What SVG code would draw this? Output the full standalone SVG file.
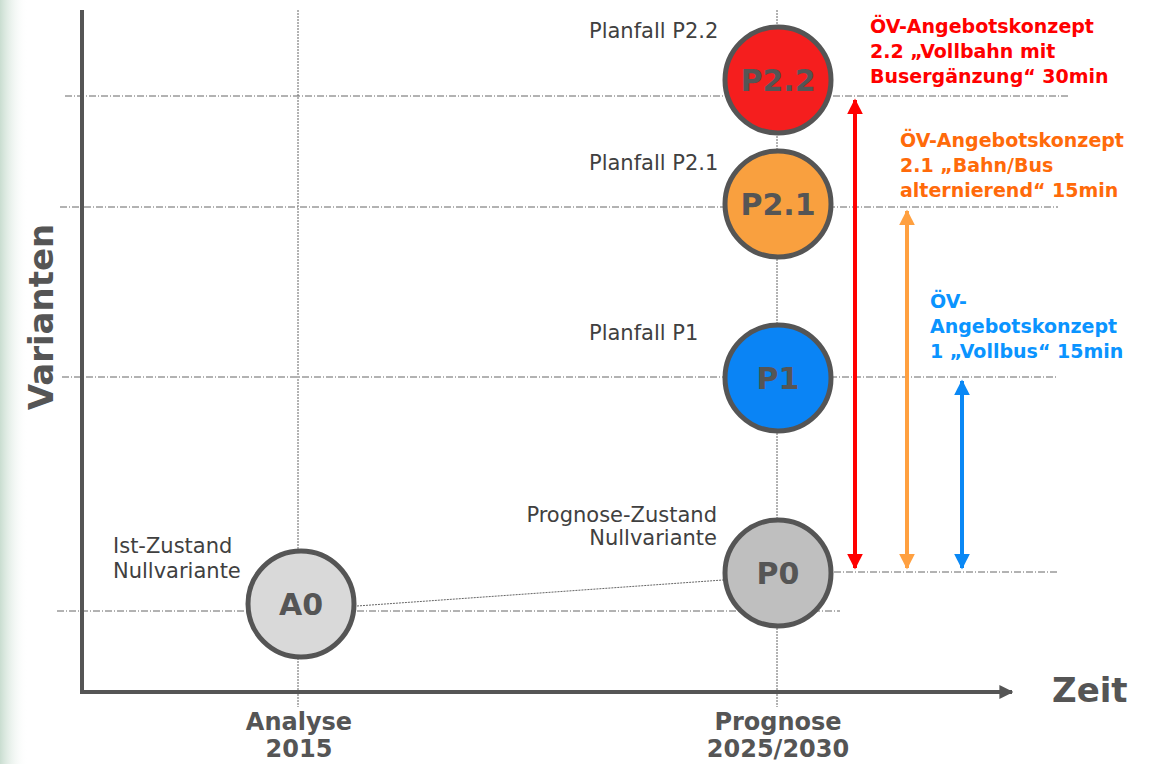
<svg xmlns="http://www.w3.org/2000/svg" width="1167" height="764" viewBox="0 0 1167 764">
<style>
.grid{stroke:#666;stroke-width:1;fill:none;stroke-dasharray:7 2 1 2}
.vgrid{stroke:#666;stroke-width:1;fill:none;stroke-dasharray:2 1}
.node{stroke:#555;stroke-width:5}
.nlabel{font-family:"DejaVu Sans",Verdana,sans-serif;font-weight:bold;font-size:30px;fill:#555;text-anchor:middle}
.lbl{font-family:"DejaVu Sans",Verdana,sans-serif;font-size:21px;fill:#404040}
.ax{font-family:"DejaVu Sans",Verdana,sans-serif;font-weight:bold;font-size:24px;fill:#555;text-anchor:middle}
.big{font-family:"DejaVu Sans",Verdana,sans-serif;font-weight:bold;font-size:34px;fill:#555}
.conc{font-family:"DejaVu Sans",Verdana,sans-serif;font-weight:bold;font-size:19px}
</style>
<defs>
<linearGradient id="bg" x1="0" y1="0" x2="1" y2="0">
<stop offset="0" stop-color="#c9ddd0"/>
<stop offset="1" stop-color="#ffffff" stop-opacity="0"/>
</linearGradient>
<marker id="ar" viewBox="0 0 10 10" refX="9" refY="5" markerWidth="4" markerHeight="4" orient="auto-start-reverse" markerUnits="strokeWidth">
<path d="M0,0 L10,5 L0,10 z" fill="context-stroke"/>
</marker>
<marker id="ax" viewBox="0 0 10 10" refX="9" refY="5" markerWidth="3.5" markerHeight="3.5" orient="auto" markerUnits="strokeWidth">
<path d="M0,0 L10,5 L0,10 z" fill="#555"/>
</marker>
</defs>
<rect width="1167" height="764" fill="#fff"/>
<rect x="0" y="0" width="28" height="764" fill="url(#bg)"/>

<g id="grid">
<line class="grid" x1="65" y1="96" x2="1068" y2="96"/>
<line class="grid" x1="60" y1="207" x2="1058" y2="207"/>
<line class="grid" x1="62" y1="377" x2="1058" y2="377"/>
<line class="grid" x1="834" y1="572" x2="1058" y2="572"/>
<line class="grid" x1="57" y1="611" x2="840" y2="611"/>
<line class="vgrid" x1="298" y1="10" x2="298" y2="707"/>
<line class="vgrid" x1="777" y1="10" x2="777" y2="707"/>
</g>

<g id="axes">
<line x1="82" y1="10" x2="82" y2="692" stroke="#555" stroke-width="4"/>
<line x1="80" y1="692" x2="1012" y2="692" stroke="#555" stroke-width="4" marker-end="url(#ax)"/>
<text class="big" transform="translate(53,317) rotate(-90)" text-anchor="middle">Varianten</text>
<text class="big" x="1052" y="702">Zeit</text>
<text class="ax" x="299" y="730">Analyse</text>
<text class="ax" x="299" y="757">2015</text>
<text class="ax" x="778" y="730">Prognose</text>
<text class="ax" x="778" y="757">2025/2030</text>
</g>

<g id="connectors">
<line x1="357" y1="606" x2="723" y2="580" stroke="#666" stroke-width="1" stroke-dasharray="2 1"/>
<line x1="855" y1="100" x2="855" y2="568" stroke="#ff0000" stroke-width="4" marker-start="url(#ar)" marker-end="url(#ar)"/>
<line x1="907" y1="211" x2="907" y2="568" stroke="#ffa040" stroke-width="4" marker-start="url(#ar)" marker-end="url(#ar)"/>
<line x1="962" y1="381" x2="962" y2="568" stroke="#0a88f5" stroke-width="4" marker-start="url(#ar)" marker-end="url(#ar)"/>
</g>

<g id="A0">
<circle class="node" cx="301" cy="604" r="53" fill="#d9d9d9"/>
<text class="nlabel" x="301" y="615">A0</text>
<text class="lbl" x="113" y="553">Ist-Zustand</text>
<text class="lbl" x="113" y="578">Nullvariante</text>
</g>

<g id="P0">
<circle class="node" cx="778" cy="573" r="53" fill="#bfbfbf"/>
<text class="nlabel" x="778" y="584">P0</text>
<text class="lbl" x="717" y="522" text-anchor="end">Prognose-Zustand</text>
<text class="lbl" x="717" y="545" text-anchor="end">Nullvariante</text>
</g>

<g id="P1">
<circle class="node" cx="778" cy="378" r="53" fill="#0a84f5"/>
<text class="nlabel" x="778" y="389">P1</text>
<text class="lbl" x="589" y="340">Planfall P1</text>
</g>

<g id="P21">
<circle class="node" cx="778" cy="204" r="53" fill="#f9a03f"/>
<text class="nlabel" x="778" y="215">P2.1</text>
<text class="lbl" x="589" y="170">Planfall P2.1</text>
</g>

<g id="P22">
<circle class="node" cx="778" cy="80" r="53" fill="#f51e1e"/>
<text class="nlabel" x="778" y="91">P2.2</text>
<text class="lbl" x="589" y="38">Planfall P2.2</text>
</g>

<g id="concepts">
<text class="conc" fill="#ff0000" x="870" y="33">ÖV-Angebotskonzept</text>
<text class="conc" fill="#ff0000" x="870" y="58">2.2 „Vollbahn mit</text>
<text class="conc" fill="#ff0000" x="870" y="83">Busergänzung“ 30min</text>
<text class="conc" fill="#ff6a0a" x="900" y="147">ÖV-Angebotskonzept</text>
<text class="conc" fill="#ff6a0a" x="900" y="172">2.1 „Bahn/Bus</text>
<text class="conc" fill="#ff6a0a" x="900" y="197">alternierend“ 15min</text>
<text class="conc" fill="#0a94ff" x="930" y="308">ÖV-</text>
<text class="conc" fill="#0a94ff" x="930" y="333">Angebotskonzept</text>
<text class="conc" fill="#0a94ff" x="930" y="358">1 „Vollbus“ 15min</text>
</g>
</svg>
